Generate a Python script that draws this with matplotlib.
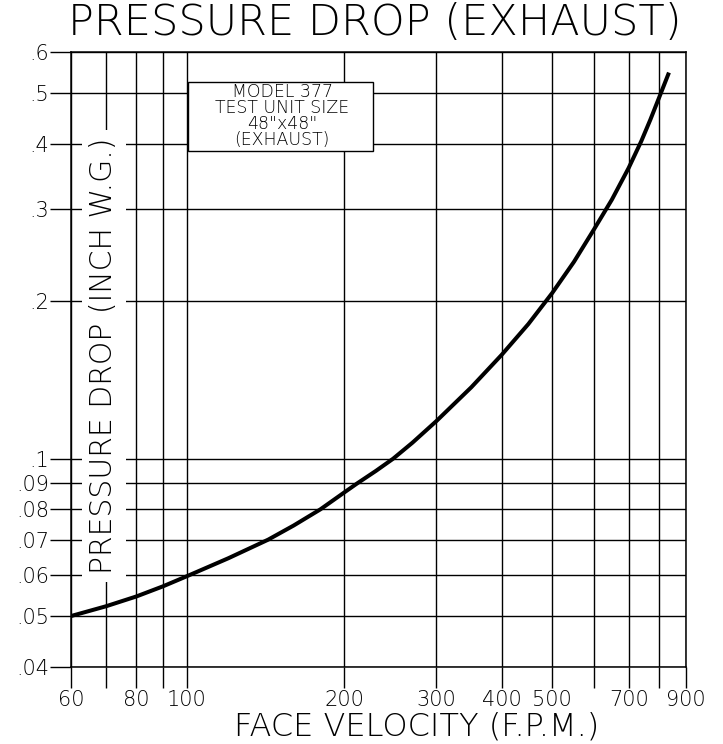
import matplotlib
matplotlib.use('Agg')
import matplotlib.pyplot as plt
from matplotlib.ticker import FixedLocator, FixedFormatter, NullLocator
from matplotlib.patches import Rectangle

# ---- data ----
velocity = [60, 70, 80, 90, 100, 120, 143, 160, 180, 200, 211, 230, 248, 270, 300, 350,
            400, 450, 500, 550, 600, 650, 700, 740, 770, 800, 836]
pressure = [0.050, 0.0522, 0.0545, 0.0570, 0.0596, 0.0645, 0.070, 0.0745, 0.080, 0.0862,
            0.0895, 0.0948, 0.100, 0.1073, 0.118, 0.137, 0.158, 0.181, 0.2076, 0.238,
            0.274, 0.313, 0.36, 0.405, 0.445, 0.49, 0.548]

x_grid = [60, 70, 80, 90, 100, 200, 300, 400, 500, 600, 700, 800, 900]
x_labels = ['60', '', '80', '', '100', '200', '300', '400', '500', '', '700', '', '900']
y_grid = [0.04, 0.05, 0.06, 0.07, 0.08, 0.09, 0.1, 0.2, 0.3, 0.4, 0.5, 0.6]
y_labels = ['.04', '.05', '.06', '.07', '.08', '.09', '.1', '.2', '.3', '.4', '.5', '.6']

title = 'PRESSURE DROP (EXHAUST)'
xlabel = 'FACE VELOCITY (F.P.M.)'
ylabel = 'PRESSURE DROP (INCH W.G.)'
box_lines = ['MODEL 377', 'TEST UNIT SIZE', '48"x48"', '(EXHAUST)']

plt.rcParams['font.family'] = ['DejaVu Sans']

W, H = 723, 744
fig = plt.figure(figsize=(W / 100, H / 100), dpi=100)
ax_l, ax_r, ax_t, ax_b = 71, 685.7, 52, 666.7
ax = fig.add_axes([ax_l / W, 1 - ax_b / H, (ax_r - ax_l) / W, (ax_b - ax_t) / H])

ax.set_xscale('log')
ax.set_yscale('log')
ax.set_xlim(60, 900)
ax.set_ylim(0.04, 0.6)

ax.plot(velocity, pressure, color='black', lw=2.9, solid_capstyle='butt',
        solid_joinstyle='round', zorder=3)

ax.xaxis.set_major_locator(FixedLocator(x_grid))
ax.xaxis.set_major_formatter(FixedFormatter(x_labels))
ax.xaxis.set_minor_locator(NullLocator())
ax.yaxis.set_major_locator(FixedLocator(y_grid))
ax.yaxis.set_major_formatter(FixedFormatter(y_labels))
ax.yaxis.set_minor_locator(NullLocator())

ax.grid(True, which='major', color='black', lw=1.0)
ax.set_axisbelow(True)
ax.tick_params(axis='both', direction='out', length=15, width=1.0, color='black')
ax.tick_params(axis='x', pad=2, labelsize=15)
ax.tick_params(axis='y', pad=1, labelsize=15)
for lab in ax.get_xticklabels() + ax.get_yticklabels():
    lab.set_fontweight('light')
for s in ax.spines.values():
    s.set_linewidth(1.1)

# in-plot y label with white background breaking the grid
ax.text((104 - ax_l) / (ax_r - ax_l), (ax_b - 356) / (ax_b - ax_t), ylabel,
        transform=ax.transAxes, rotation=90, ha='center', va='center',
        fontsize=21.5, fontweight='light', zorder=5,
        bbox=dict(facecolor='white', edgecolor='none', boxstyle='square,pad=0.25'))

# model box
bx0, bx1, by0, by1 = 188, 373, 82, 151
ax.add_patch(Rectangle(((bx0 - ax_l) / (ax_r - ax_l), (ax_b - by1) / (ax_b - ax_t)),
                       (bx1 - bx0) / (ax_r - ax_l), (by1 - by0) / (ax_b - ax_t),
                       transform=ax.transAxes, facecolor='white', edgecolor='black',
                       lw=1.0, zorder=4))
ax.text((282 - ax_l) / (ax_r - ax_l), (ax_b - 116) / (ax_b - ax_t), '\n'.join(box_lines),
        transform=ax.transAxes, ha='center', va='center', fontsize=12.5,
        fontweight='light', linespacing=0.85, zorder=5)

fig.text(375 / W, 1 - 22 / H, title, ha='center', va='center', fontsize=31, fontweight='light')
fig.text(417 / W, 1 - 727 / H, xlabel, ha='center', va='center', fontsize=23, fontweight='light')

fig.savefig('out.png', dpi=100, facecolor='white')
